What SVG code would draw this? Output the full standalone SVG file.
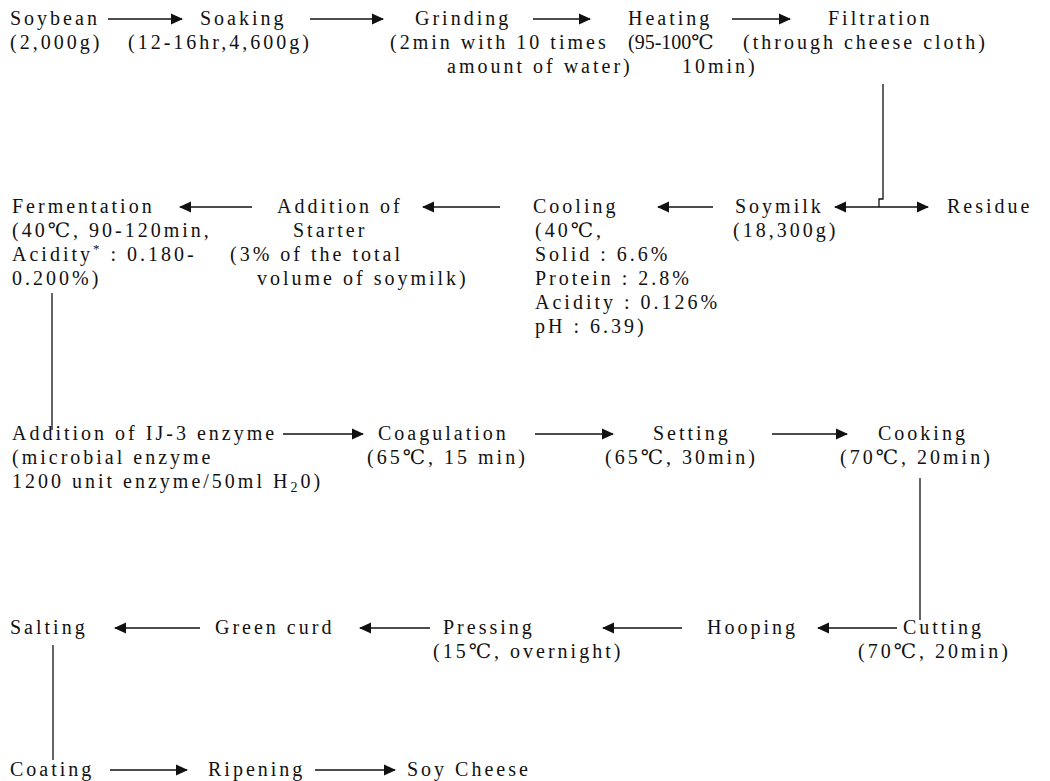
<svg xmlns="http://www.w3.org/2000/svg" width="1050" height="781" viewBox="0 0 1050 781">
<style>
text{font-family:"Liberation Serif","DejaVu Serif",serif;font-size:20px;letter-spacing:3px;fill:#111}
.c{stroke:#111;stroke-width:1.3;fill:none}
.a{marker-end:url(#h)}
.d{marker-start:url(#h);marker-end:url(#h)}
</style>
<defs>
<marker id="h" markerUnits="userSpaceOnUse" markerWidth="12" markerHeight="12" refX="11" refY="6" orient="auto-start-reverse" viewBox="0 0 12 12"><path d="M0,0.5 L12,6 L0,11.5 z" fill="#111"/></marker>
</defs>
<rect width="1050" height="781" fill="#fff"/>
<g id="connectors">
<line class="c a" x1="108" y1="19" x2="182" y2="19"/>
<line class="c a" x1="310" y1="19" x2="383" y2="19"/>
<line class="c a" x1="533" y1="19" x2="590" y2="19"/>
<line class="c a" x1="732" y1="19" x2="790" y2="19"/>
<path class="c" d="M883,84 V199 H879 V207"/>
<line class="c d" x1="835" y1="207" x2="928" y2="207"/>
<line class="c a" x1="713" y1="207" x2="658" y2="207"/>
<line class="c a" x1="500" y1="207" x2="423" y2="207"/>
<line class="c a" x1="252" y1="207" x2="180" y2="207"/>
<line class="c" x1="52" y1="293" x2="52" y2="430"/>
<line class="c a" x1="283" y1="434" x2="363" y2="434"/>
<line class="c a" x1="535" y1="434" x2="613" y2="434"/>
<line class="c a" x1="772" y1="434" x2="847" y2="434"/>
<line class="c" x1="920" y1="478" x2="920" y2="620"/>
<line class="c a" x1="897" y1="628" x2="818" y2="628"/>
<line class="c a" x1="682" y1="628" x2="603" y2="628"/>
<line class="c a" x1="430" y1="628" x2="360" y2="628"/>
<line class="c a" x1="200" y1="628" x2="115" y2="628"/>
<line class="c" x1="53" y1="645" x2="53" y2="760"/>
<line class="c a" x1="110" y1="770" x2="187" y2="770"/>
<line class="c a" x1="315" y1="770" x2="395" y2="770"/>
</g>
<g id="soybean"><text x="10" y="25">Soybean</text><text x="10" y="49">(2,000g)</text></g>
<g id="soaking"><text x="200" y="25">Soaking</text><text x="128" y="49">(12-16hr,4,600g)</text></g>
<g id="grinding"><text x="415" y="25">Grinding</text><text x="390" y="49">(2min with 10 times</text><text x="447" y="73">amount of water)</text></g>
<g id="heating"><text x="628" y="25">Heating</text><text x="628" y="49" style="letter-spacing:0px">(95-100℃</text><text x="682" y="73">10min)</text></g>
<g id="filtration"><text x="828" y="25">Filtration</text><text x="743" y="49">(through cheese cloth)</text></g>
<g id="soymilk"><text x="735" y="213">Soymilk</text><text x="733" y="237">(18,300g)</text></g>
<g id="residue"><text x="947" y="213">Residue</text></g>
<g id="cooling"><text x="533" y="213">Cooling</text><text x="535" y="237">(40℃,</text><text x="535" y="261">Solid : 6.6%</text><text x="535" y="285">Protein : 2.8%</text><text x="535" y="309">Acidity : 0.126%</text><text x="535" y="333">pH : 6.39)</text></g>
<g id="starter"><text x="277" y="213">Addition of</text><text x="293" y="237">Starter</text><text x="230" y="261">(3% of the total</text><text x="257" y="285">volume of soymilk)</text></g>
<g id="fermentation"><text x="12" y="213">Fermentation</text><text x="12" y="237">(40℃, 90-120min,</text><text x="12" y="261">Acidity<tspan font-size="13" dy="-8">*</tspan><tspan dy="8"> : 0.180-</tspan></text><text x="12" y="285">0.200%)</text></g>
<g id="enzyme"><text x="12" y="440">Addition of IJ-3 enzyme</text><text x="12" y="464">(microbial enzyme</text><text x="12" y="488">1200 unit enzyme/50ml H<tspan font-size="14" dy="4">2</tspan><tspan dy="-4">0)</tspan></text></g>
<g id="coagulation"><text x="378" y="440">Coagulation</text><text x="367" y="464">(65℃, 15 min)</text></g>
<g id="setting"><text x="653" y="440">Setting</text><text x="605" y="464">(65℃, 30min)</text></g>
<g id="cooking"><text x="878" y="440">Cooking</text><text x="840" y="464">(70℃, 20min)</text></g>
<g id="cutting"><text x="903" y="634">Cutting</text><text x="858" y="658">(70℃, 20min)</text></g>
<g id="hooping"><text x="707" y="634">Hooping</text></g>
<g id="pressing"><text x="443" y="634">Pressing</text><text x="433" y="658">(15℃, overnight)</text></g>
<g id="greencurd"><text x="215" y="634">Green curd</text></g>
<g id="salting"><text x="10" y="634">Salting</text></g>
<g id="coating"><text x="10" y="776">Coating</text></g>
<g id="ripening"><text x="208" y="776">Ripening</text></g>
<g id="soycheese"><text x="407" y="776">Soy Cheese</text></g>
</svg>
